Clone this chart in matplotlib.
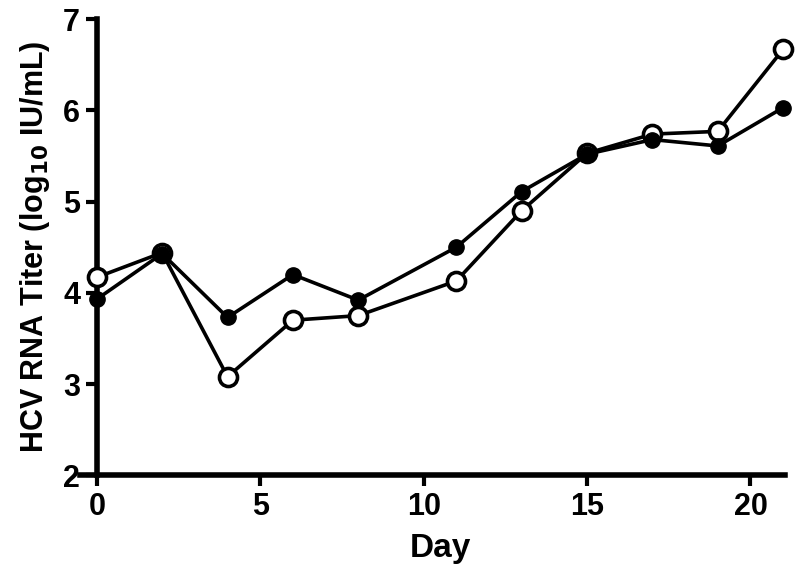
import matplotlib
matplotlib.use("Agg")
import matplotlib.pyplot as plt

# Days sampled
days = [0, 2, 4, 6, 8, 11, 13, 15, 17, 19, 21]
# log10 IU/mL titers
titer_filled = [3.93, 4.43, 3.73, 4.20, 3.92, 4.50, 5.11, 5.52, 5.68, 5.61, 6.03]
titer_open = [4.17, 4.44, 3.08, 3.70, 3.75, 4.13, 4.90, 5.53, 5.74, 5.77, 6.67]

x_ticks = [0, 5, 10, 15, 20]
y_ticks = [2, 3, 4, 5, 6, 7]

plt.rcParams["font.family"] = ["Liberation Sans", "DejaVu Sans"]
plt.rcParams["font.weight"] = "bold"

fig = plt.figure(figsize=(8, 5.81), dpi=100)
ax = fig.add_axes([0.121, 0.182, 0.86, 0.785])

ax.plot(days, titer_open, color="black", lw=2.6, marker="o", markersize=13,
        markerfacecolor="white", markeredgecolor="black", markeredgewidth=2.6,
        clip_on=False, zorder=3)
ax.plot(days, titer_filled, color="black", lw=2.6, marker="o", markersize=11,
        markerfacecolor="black", markeredgecolor="black",
        clip_on=False, zorder=4)

ax.set_xlim(0, 21.05)
ax.set_ylim(2, 7)
ax.set_xticks(x_ticks)
ax.set_yticks(y_ticks)

for side in ["top", "right"]:
    ax.spines[side].set_visible(False)
for side in ["left", "bottom"]:
    ax.spines[side].set_linewidth(4)
ax.spines["bottom"].set_bounds(-0.5, 21.05)
ax.tick_params(axis="both", direction="out", length=8, width=3, labelsize=22, pad=4)

ax.set_xlabel("Day", fontsize=24, fontweight="bold", labelpad=8)
ax.set_ylabel("HCV RNA Titer (log$_{\\mathbf{10}}$ IU/mL)", fontsize=22,
              fontweight="bold", labelpad=8)

fig.savefig("out.png", dpi=100)
